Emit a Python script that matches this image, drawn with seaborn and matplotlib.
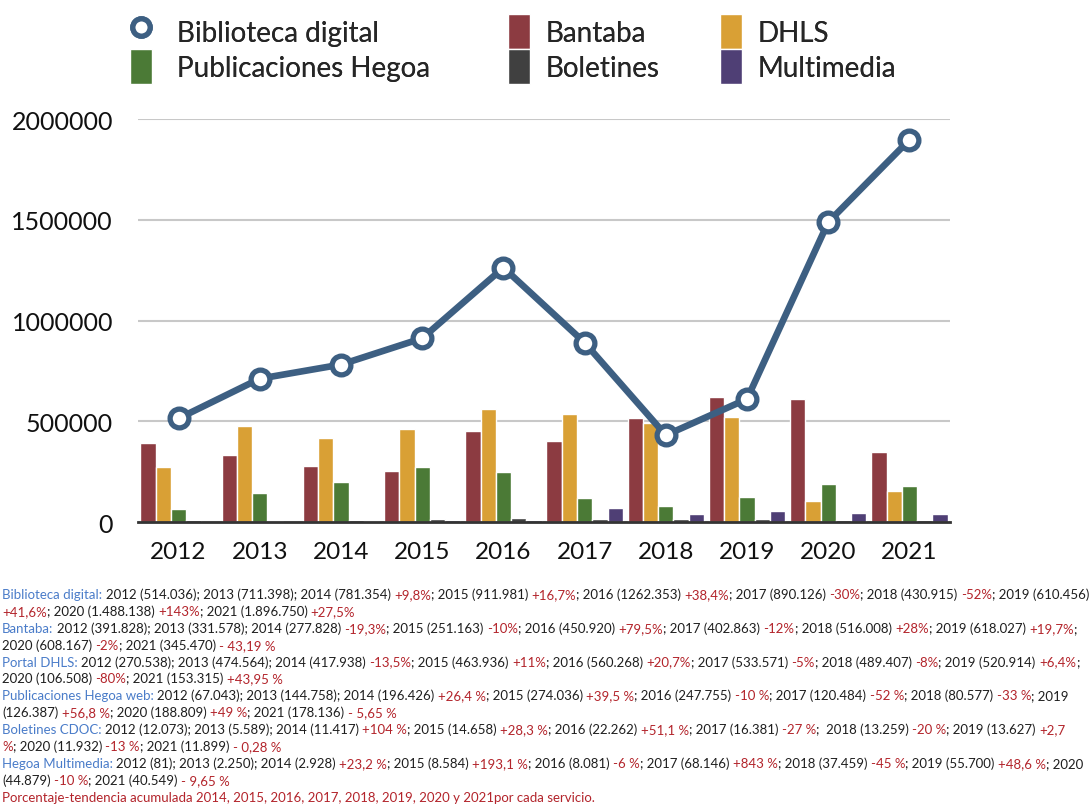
import re
import pandas as pd
import matplotlib
matplotlib.use('Agg')
import matplotlib.pyplot as plt
import seaborn as sns
from matplotlib.lines import Line2D
from matplotlib.patches import Patch

# Data (visitas por servicio y año)
years = ['2012', '2013', '2014', '2015', '2016', '2017', '2018', '2019', '2020', '2021']
biblioteca = [514036, 711398, 781354, 911981, 1262353, 890126, 430915, 610456, 1488138, 1896750]
bantaba = [391828, 331578, 277828, 251163, 450920, 402863, 516008, 618027, 608167, 345470]
dhls = [270538, 474564, 417938, 463936, 560268, 533571, 489407, 520914, 106508, 153315]
publicaciones = [67043, 144758, 196426, 274036, 247755, 120484, 80577, 126387, 188809, 178136]
boletines = [12073, 5589, 11417, 14658, 22262, 16381, 13259, 13627, 11932, 11899]
multimedia = [81, 2250, 2928, 8584, 8081, 68146, 37459, 55700, 44879, 40549]

bar_names = ['Bantaba', 'DHLS', 'Publicaciones Hegoa', 'Boletines', 'Multimedia']
bar_colors = ['#8c3b41', '#d9a035', '#4b7a36', '#404040', '#4f3f75']
line_color = '#3d5f82'
line_name = 'Biblioteca digital'

notes = [
    "Biblioteca digital: 2012 (514.036); 2013 (711.398); 2014 (781.354) +9,8%; 2015 (911.981) +16,7%; 2016 (1262.353) +38,4%; 2017 (890.126) -30%; 2018 (430.915) -52%; 2019 (610.456)",
    "+41,6%; 2020 (1.488.138) +143%; 2021 (1.896.750) +27,5%",
    "Bantaba: 2012 (391.828); 2013 (331.578); 2014 (277.828) -19,3%; 2015 (251.163) -10%; 2016 (450.920) +79,5%; 2017 (402.863) -12%; 2018 (516.008) +28%; 2019 (618.027) +19,7%;",
    "2020 (608.167) -2%; 2021 (345.470) - 43,19 %",
    "Portal DHLS: 2012 (270.538); 2013 (474.564); 2014 (417.938) -13,5%; 2015 (463.936) +11%; 2016 (560.268) +20,7%; 2017 (533.571) -5%; 2018 (489.407) -8%; 2019 (520.914) +6,4%;",
    "2020 (106.508) -80%; 2021 (153.315) +43,95 %",
    "Publicaciones Hegoa web: 2012 (67.043); 2013 (144.758); 2014 (196.426) +26,4 %; 2015 (274.036) +39,5 %; 2016 (247.755) -10 %; 2017 (120.484) -52 %; 2018 (80.577) -33 %; 2019",
    "(126.387) +56,8 %; 2020 (188.809) +49 %; 2021 (178.136) - 5,65 %",
    "Boletines CDOC: 2012 (12.073); 2013 (5.589); 2014 (11.417) +104 %; 2015 (14.658) +28,3 %; 2016 (22.262) +51,1 %; 2017 (16.381) -27 %;  2018 (13.259) -20 %; 2019 (13.627) +2,7",
    "%; 2020 (11.932) -13 %; 2021 (11.899) - 0,28 %",
    "Hegoa Multimedia: 2012 (81); 2013 (2.250); 2014 (2.928) +23,2 %; 2015 (8.584) +193,1 %; 2016 (8.081) -6 %; 2017 (68.146) +843 %; 2018 (37.459) -45 %; 2019 (55.700) +48,6 %; 2020",
    "(44.879) -10 %; 2021 (40.549) - 9,65 %",
    "Porcentaje-tendencia acumulada 2014, 2015, 2016, 2017, 2018, 2019, 2020 y 2021por cada servicio.",
]

# Style
sns.set_style('white')
plt.rcParams['font.family'] = ['Lato', 'DejaVu Sans']

df = pd.DataFrame({
    'year': years,
    'Bantaba': bantaba,
    'DHLS': dhls,
    'Publicaciones Hegoa': publicaciones,
    'Boletines': boletines,
    'Multimedia': multimedia,
})
df_long = df.melt(id_vars='year', var_name='servicio', value_name='visitas')
df_lib = pd.DataFrame({'year': years, 'visitas': biblioteca})

fig = plt.figure(figsize=(10.9, 8.12), dpi=100)
ax = fig.add_axes([0.1266, 0.3559, 0.745, 0.4963])

sns.barplot(
    data=df_long, x='year', y='visitas', hue='servicio',
    hue_order=bar_names, palette=dict(zip(bar_names, bar_colors)),
    width=0.94, saturation=1, errorbar=None, legend=False, ax=ax
)
sns.pointplot(
    data=df_lib, x='year', y='visitas', color=line_color, errorbar=None, ax=ax,
    linewidth=4.8, markersize=13.5, markerfacecolor='white',
    markeredgecolor=line_color, markeredgewidth=3.8
)

ax.set_xlim(-0.5, 9.5)
ax.set_ylim(0, 2000000)
ax.set_yticks([0, 500000, 1000000, 1500000, 2000000])
ax.set_yticklabels(['0', '500000', '1000000', '1500000', '2000000'])
ax.set_xlabel('')
ax.set_ylabel('')
ax.yaxis.grid(True, color='#c8c8c8', lw=1.5)
ax.set_axisbelow(True)
sns.despine(ax=ax, left=True)
ax.spines['bottom'].set_color('#333333')
ax.spines['bottom'].set_linewidth(2)
ax.tick_params(axis='both', length=0, colors='#111111')
ax.tick_params(axis='x', pad=14, labelsize=17.5)
ax.tick_params(axis='y', pad=18, labelsize=18)

# Legend: three columns, each its own legend so x positions match
handles = {
    line_name: Line2D([], [], ls='none', marker='o', ms=12.5, mfc='white',
                      mec=line_color, mew=3.8),
}
for name, col in zip(bar_names, bar_colors):
    handles[name] = Patch(facecolor=col)
columns = [
    ([line_name, 'Publicaciones Hegoa'], 130, 0.9),
    (['Bantaba', 'Boletines'], 508, 0.55),
    (['DHLS', 'Multimedia'], 720, 0.55),
]
for labels, x_px, pad in columns:
    leg = fig.legend(
        [handles[k] for k in labels], labels, loc='upper left',
        bbox_to_anchor=(x_px / 1090, 1 - 15 / 812), frameon=False, fontsize=20,
        handlelength=0.8, handleheight=1.55, handletextpad=pad,
        labelspacing=0.02, borderpad=0, borderaxespad=0
    )
    fig.add_artist(leg)

# Notes below chart, colored segments
blue, dark, red = '#4a7cc9', '#1e1e1e', '#b3242b'
fs = 9.5
pct = re.compile(r'([+-] ?\d+(?:,\d+)?(?: ?%)?|^%)')


def segments(line):
    if line.startswith('Porcentaje'):
        return [(line, red)]
    out = []
    m = re.match(r'^([^:()]+:)(.*)$', line)
    rest = line
    if m:
        out.append((m.group(1), blue))
        rest = m.group(2)
    for i, p in enumerate(pct.split(rest)):
        if p:
            out.append((p, red if i % 2 else dark))
    return out


renderer = fig.canvas.get_renderer()


def text_w(s):
    t = fig.text(0, 0, s, fontsize=fs)
    w = t.get_window_extent(renderer).width
    t.remove()
    return w


space_w = text_w('a a') - text_w('aa')

for i, line in enumerate(notes):
    y = 1 - (601 + 16.9 * i) / 812
    prev = None
    trail = 0
    for s, col in segments(line):
        lead = len(s) - len(s.lstrip(' '))
        body = s.strip(' ')
        if prev is None:
            prev = fig.text(2 / 1090, y, body, fontsize=fs, color=col, va='bottom', ha='left')
        else:
            prev = ax.annotate(body, xy=(1, 0), xycoords=prev,
                               xytext=((trail + lead) * space_w, 0), textcoords='offset pixels',
                               fontsize=fs, color=col, va='bottom', ha='left',
                               annotation_clip=False)
        trail = len(s) - len(s.rstrip(' '))

fig.savefig('out.png', dpi=100)
